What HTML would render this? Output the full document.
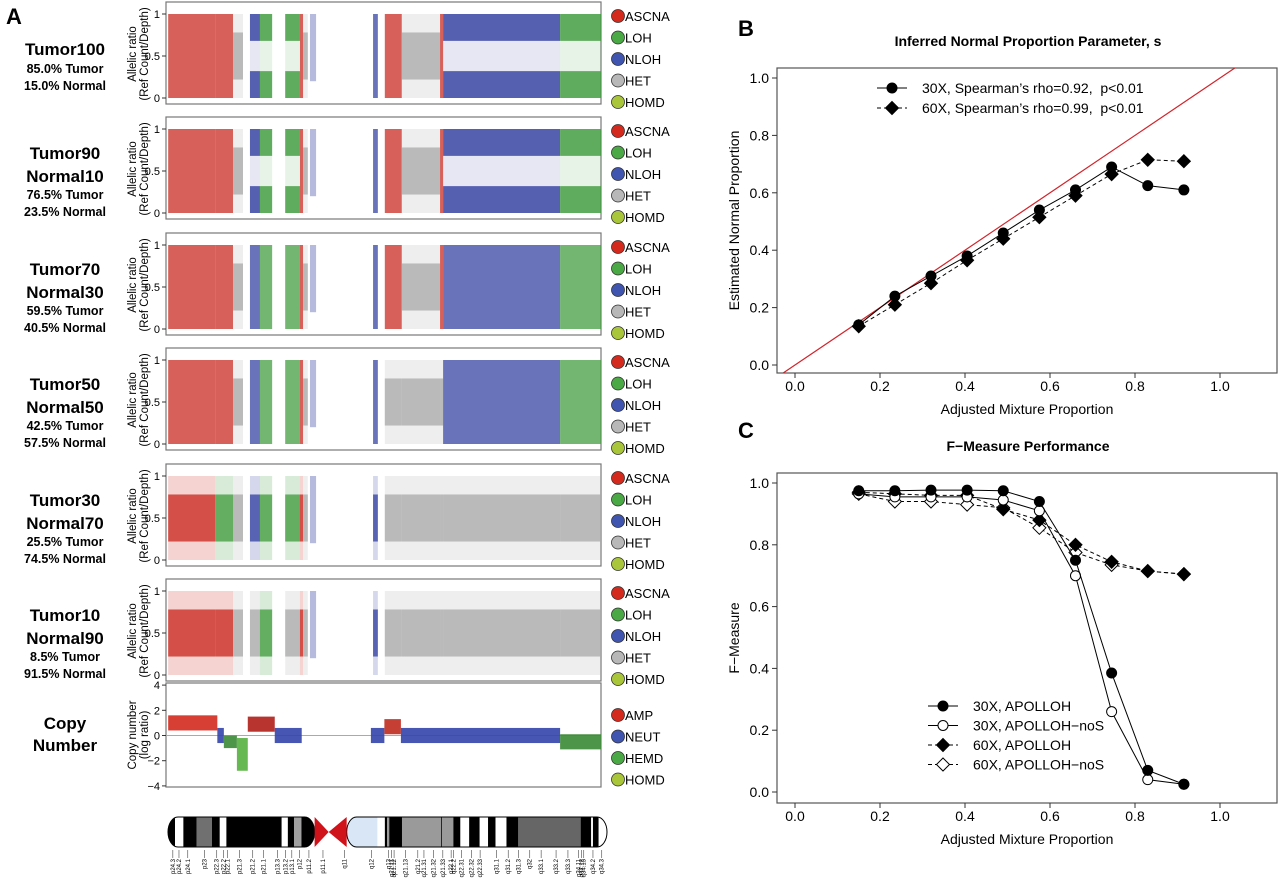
<!DOCTYPE html>
<html><head><meta charset="utf-8"><style>
html,body{margin:0;padding:0;background:#fff;}
svg{display:block;font-family:"Liberation Sans",Arial,sans-serif;}
</style></head><body>
<svg id="fig" width="1280" height="882" viewBox="0 0 1280 882" xmlns="http://www.w3.org/2000/svg">
<text x="6" y="24" font-size="22" font-weight="bold">A</text>
<text x="738" y="36" font-size="22" font-weight="bold">B</text>
<text x="738" y="438" font-size="22" font-weight="bold">C</text>
<g id="gA"></g>
<g id="gB"></g>
<g id="gC"></g>
</svg>
<script>
// ---------- Panel B/C data ----------
const mixX = [0.15,0.235,0.32,0.405,0.49,0.575,0.66,0.745,0.83,0.915];
const normal30X = [0.14,0.24,0.31,0.38,0.46,0.54,0.61,0.69,0.625,0.61];
const normal60X = [0.135,0.21,0.285,0.365,0.44,0.515,0.59,0.665,0.715,0.71];
const fm30X = [0.975,0.975,0.977,0.977,0.975,0.94,0.75,0.385,0.07,0.025];
const fm30XnoS = [0.965,0.955,0.955,0.955,0.945,0.91,0.70,0.26,0.04,0.025];
const fm60X = [0.97,0.965,0.96,0.96,0.915,0.88,0.80,0.745,0.715,0.705];
const fm60XnoS = [0.965,0.94,0.94,0.93,0.92,0.855,0.775,0.735,0.715,0.705];
const tickVals = [0,0.2,0.4,0.6,0.8,1.0];
const tickLabels = ["0.0","0.2","0.4","0.6","0.8","1.0"];

// ---------- Panel A data ----------
const sampleNames = [["Tumor100"],["Tumor90","Normal10"],["Tumor70","Normal30"],["Tumor50","Normal50"],["Tumor30","Normal70"],["Tumor10","Normal90"]];
const tumorPct = ["85.0% Tumor","76.5% Tumor","59.5% Tumor","42.5% Tumor","25.5% Tumor","8.5% Tumor"];
const normalPct = ["15.0% Normal","23.5% Normal","40.5% Normal","57.5% Normal","74.5% Normal","91.5% Normal"];
const stateLabels = ["ASCNA","LOH","NLOH","HET","HOMD"];
const cnLabels = ["AMP","NEUT","HEMD","HOMD"];
const regStart = [0.005,0.113,0.154,0.193,0.216,0.274,0.308,0.315,0.331,0.476,0.503,0.542,0.630,0.637,0.906];
const regEnd   = [0.113,0.154,0.177,0.216,0.244,0.308,0.315,0.326,0.345,0.487,0.542,0.630,0.637,0.906,1.0];
const regStates = [
 ["Rf","Rf","Hm","Bs","Gs","Gs","Rf","Hm","Bt","Bf","Rf","Hm","Rf","Bs","Gs"],
 ["Rf","Rf","Hm","Bs","Gs","Gs","Rf","Hm","Bt","Bf","Rf","Hm","Rf","Bs","Gs"],
 ["Rf","Rf","Hm","Bf","Gf","Gf","Rf","Hm","Bt","Bf","Rf","Hm","Rf","Bf","Gf"],
 ["Rf","Rf","Hm","Bf","Gf","Gf","Rf","Hm","Bt","Bf","Hm","Hm","Hm","Bf","Gf"],
 ["Rm","Gm","Hm","Bm","Gm","Gm","Rm","Hm","Bt","Bm","Hm","Hm","Hm","Hm","Hm"],
 ["Rm","Rm","Hm","Hm","Gm","Hm","Rm","Hm","Bt","Bm","Hm","Hm","Hm","Hm","Hm"]
];
const cnStart = [0.005,0.118,0.133,0.163,0.188,0.250,0.471,0.502,0.540,0.906];
const cnEnd   = [0.118,0.133,0.163,0.188,0.250,0.312,0.502,0.540,0.906,1.0];
const cnLevel = [1.0,0.0,-0.5,-1.5,0.9,0.0,0.0,0.7,0.0,-0.5];
const cnSpread = [0.6,0.6,0.5,1.3,0.6,0.6,0.6,0.6,0.6,0.6];
const cnColor = ["#d42a1e","#3344aa","#3a8a35","#55b040","#b01e18","#3344aa","#3344aa","#c02a1e","#3344aa","#3a8a35"];
const bandStart = [0,0.016,0.035,0.065,0.100,0.118,0.133,0.259,0.273,0.287,0.304,0.334,0.407,0.477,0.494,0.499,0.504,0.533,0.622,0.624,0.650,0.666,0.686,0.710,0.729,0.746,0.771,0.798,0.940,0.964,0.968,0.981];
const bandEnd   = [0.016,0.035,0.065,0.100,0.118,0.133,0.259,0.273,0.287,0.304,0.334,0.407,0.477,0.494,0.499,0.504,0.533,0.622,0.624,0.650,0.666,0.686,0.710,0.729,0.746,0.771,0.798,0.940,0.964,0.968,0.981,1.0];
const bandFill  = ["#000","#fff","#000","#707070","#000","#fff","#000","#fff","#000","#a0a0a0","#000","CEN","#d8e6f5","#fff","#000","#9a9a9a","#000","#9a9a9a","#000","#9a9a9a","#000","#fff","#000","#fff","#000","#fff","#000","#666","#000","#fff","#000","#fff"];
const bandNames = ["p24.3","p24.2","p24.1","p23","p22.3","p22.2","p22.1","p21.3","p21.2","p21.1","p13.3","p13.2","p13.1","p12","p11.2","p11.1","q11","q12","q13","q21.11","q21.12","q21.13","q21.2","q21.31","q21.32","q21.33","q22.1","q22.2","q22.31","q22.32","q22.33","q31.1","q31.2","q31.3","q32","q33.1","q33.2","q33.3","q34.11","q34.12","q34.13","q34.2","q34.3"];
const bandLabelPos = [0.011,0.025,0.045,0.083,0.111,0.126,0.136,0.163,0.193,0.218,0.249,0.268,0.282,0.300,0.321,0.353,0.402,0.464,0.502,0.509,0.515,0.541,0.569,0.583,0.605,0.626,0.645,0.650,0.669,0.691,0.711,0.748,0.775,0.798,0.824,0.850,0.884,0.911,0.935,0.942,0.947,0.968,0.988];

const NS="http://www.w3.org/2000/svg";
function el(tag, attrs, parent, txt){const e=document.createElementNS(NS,tag);for(const k in attrs)e.setAttribute(k,attrs[k]);if(txt!==undefined)e.textContent=txt;parent.appendChild(e);return e;}

// ---------- Panel A ----------
const gA=document.getElementById('gA');
const AX0=166, AX1=601, AW=AX1-AX0;
const panelTops=[2,117,233,348,464,579];
const colMap={R:"#c8231b",G:"#3d9a3a",B:"#2f3da0",H:"#a8a8a8"};
const legCol=["#d42a1e","#4aa845","#3f55b0","#b8b8b8","#a9c53a"];
function ax(f){return AX0+f*AW;}
panelTops.forEach((top,pi)=>{
  const g=el('g',{},gA);
  
  
  const yv=v=>top+96-v*84;
  const box=el('rect',{x:AX0,y:top,width:AW,height:102,fill:'#fff',stroke:'#777','stroke-width':1.2},g);
  
  regStates[pi].forEach((st,ri)=>{
    const c=colMap[st[0]],p=st[1];
    const x=ax(regStart[ri]),w=ax(regEnd[ri])-x;
    let bands;
    if(p==='f')bands=[[0,1,0.72]];
    else if(p==='s')bands=[[0,0.32,0.82],[0.68,1,0.82],[0.32,0.68,0.12]];
    else if(p==='m')bands=[[0.22,0.78,0.75],[0,1,0.2]];
    else bands=[[0.2,1,0.35]];
    bands.forEach(b=>{
      const r=el('rect',{x:x,y:yv(b[1]),width:w,height:yv(b[0])-yv(b[1]),fill:c,opacity:b[2]},g);
      
      
    });
  });
  [["1",1],["0.5",0.5],["0",0]].forEach(t=>{
    el('line',{x1:AX0-4,x2:AX0,y1:yv(t[1]),y2:yv(t[1]),stroke:'#333'},g);
    const tl=el('text',{x:AX0-6,y:yv(t[1])+4,'font-size':11,'text-anchor':'end'},g,t[0]);
    
  });
  const yl=el('text',{transform:`translate(136,${top+52}) rotate(-90)`,'font-size':11.5,'text-anchor':'middle'},g,'Allelic ratio');
  
  const yl2=el('text',{transform:`translate(148,${top+52}) rotate(-90)`,'font-size':11.5,'text-anchor':'middle'},g,'(Ref Count/Depth)');
  
  stateLabels.forEach((s,i)=>{
    const cy=top+14+i*21.5;
    const c=el('circle',{cx:618,cy:cy,r:6.5,fill:legCol[i],stroke:'#333','stroke-width':0.8},g);
    
    const t=el('text',{x:625,y:cy+5,'font-size':13},g,s);
    
  });
  const names=sampleNames[pi];
  let ty = names.length===1? top+53 : top+42;
  names.forEach((n,k)=>{
    const t=el('text',{x:65,y:ty+k*23,'font-size':17,'font-weight':'bold','text-anchor':'middle'},gA,n);
    
  });
  const base = names.length===1? top+71 : top+82;
  const t1=el('text',{x:65,y:base,'font-size':12.5,'font-weight':'bold','text-anchor':'middle'},gA,tumorPct[pi]);
  
  const t2=el('text',{x:65,y:base+17,'font-size':12.5,'font-weight':'bold','text-anchor':'middle'},gA,normalPct[pi]);
  
});
(function(){
  const top=683,g=el('g',{},gA);
  
  const yv=v=>735.5-v*12.6;
  el('rect',{x:AX0,y:top,width:AW,height:104,fill:'#fff',stroke:'#777','stroke-width':1.2},g);
  el('line',{x1:AX0,x2:AX1,y1:yv(0),y2:yv(0),stroke:'#aaa'},g);
  cnLevel.forEach((lv,i)=>{
    const x=ax(cnStart[i]),w=ax(cnEnd[i])-x;
    const r=el('rect',{x:x,y:yv(lv+cnSpread[i]),width:w,height:yv(lv-cnSpread[i])-yv(lv+cnSpread[i]),fill:cnColor[i],opacity:0.9},g);
    
  });
  [["4",4],["2",2],["0",0],["-2",-2],["-4",-4]].forEach(t=>{
    el('line',{x1:AX0-4,x2:AX0,y1:yv(t[1]),y2:yv(t[1]),stroke:'#333'},g);
    const tl=el('text',{x:AX0-6,y:yv(t[1])+4,'font-size':11,'text-anchor':'end'},g,t[0].replace('-','\u2212'));
    
  });
  const a=el('text',{transform:'translate(136,735) rotate(-90)','font-size':11.5,'text-anchor':'middle'},g,'Copy number');
  
  const b=el('text',{transform:'translate(148,735) rotate(-90)','font-size':11.5,'text-anchor':'middle'},g,'(log ratio)');
  
  const cc=["#d42a1e","#3f55b0","#4aa845","#a9c53a"];
  cnLabels.forEach((s,i)=>{
    const cy=715+i*21.5;
    const c=el('circle',{cx:618,cy:cy,r:6.5,fill:cc[i],stroke:'#333','stroke-width':0.8},g);
    
    const t=el('text',{x:625,y:cy+5,'font-size':13},g,s);
    
  });
  const l1=el('text',{x:65,y:729,'font-size':17,'font-weight':'bold','text-anchor':'middle'},gA,'Copy');
  
  const l2=el('text',{x:65,y:751,'font-size':17,'font-weight':'bold','text-anchor':'middle'},gA,'Number');
  
})();
(function(){
  const I0=168,I1=607,IW=I1-I0,top=817,h=30;
  const g=el('g',{},gA);
  
  const ix=f=>I0+f*IW;
  const defs=el('defs',{},g);
  const cp=el('clipPath',{id:'chrClip'},defs);
  el('rect',{x:I0,y:top,width:ix(0.334)-I0,height:h,rx:10,ry:15},cp);
  el('rect',{x:ix(0.407),y:top,width:I1-ix(0.407),height:h,rx:10,ry:15},cp);
  const bg=el('g',{'clip-path':'url(#chrClip)'},g);
  bandFill.forEach((f,i)=>{
    if(f==='CEN')return;
    const r=el('rect',{x:ix(bandStart[i]),y:top,width:ix(bandEnd[i])-ix(bandStart[i]),height:h,fill:f},bg);
    
  });
  el('rect',{x:I0,y:top,width:ix(0.334)-I0,height:h,rx:10,ry:15,fill:'none',stroke:'#000','stroke-width':1},g);
  el('rect',{x:ix(0.407),y:top,width:I1-ix(0.407),height:h,rx:10,ry:15,fill:'none',stroke:'#000','stroke-width':1},g);
  const cx=ix(0.366);
  const cen=el('path',{d:`M${ix(0.334)},${top} L${cx},${top+h/2} L${ix(0.334)},${top+h} Z M${ix(0.407)},${top} L${cx},${top+h/2} L${ix(0.407)},${top+h} Z`,fill:'#d0121b'},g);
  
  bandNames.forEach((n,i)=>{
    const x=ix(bandLabelPos[i]);
    el('line',{x1:x,x2:x,y1:850,y2:858,stroke:'#444','stroke-width':0.6},g);
    const t=el('text',{transform:`translate(${x+2},${859}) rotate(-90)`,'font-size':6,'text-anchor':'end'},g,n);
    
  });
})();

// ---------- Line charts ----------
function lineChart(gid, top, bottom, y1px, y0px, title, ylabel){
  const g=document.getElementById(gid);
  const L=777,R=1277;
  const xs=v=>795+v*425;
  const ys=v=>y0px-v*(y0px-y1px);
  el('rect',{x:L,y:top,width:R-L,height:bottom-top,fill:'#fff',stroke:'#555','stroke-width':1.2},g);
  const tt=el('text',{x:1028,y:top-22,'font-size':14,'font-weight':'bold','text-anchor':'middle'},g,title);
  
  tickVals.forEach((v,i)=>{
    el('line',{x1:xs(v),x2:xs(v),y1:bottom,y2:bottom+5,stroke:'#333'},g);
    const a=el('text',{x:xs(v),y:bottom+18,'font-size':14,'text-anchor':'middle'},g,tickLabels[i]);
    
    el('line',{x1:L-5,x2:L,y1:ys(v),y2:ys(v),stroke:'#333'},g);
    const b=el('text',{x:L-8,y:ys(v)+5,'font-size':14,'text-anchor':'end'},g,tickLabels[i]);
    
  });
  const xl=el('text',{x:1027,y:bottom+41,'font-size':14,'text-anchor':'middle'},g,'Adjusted Mixture Proportion');
  
  const yl=el('text',{transform:`translate(739,${(top+bottom)/2}) rotate(-90)`,'font-size':14,'text-anchor':'middle'},g,ylabel);
  
  function marker(parent,x,y,shape,filled){
    let m;
    if(shape==='circle') m=el('circle',{cx:x,cy:y,r:5,fill:filled?'#000':'#fff',stroke:'#000','stroke-width':1},parent);
    else m=el('path',{d:`M${x},${y-6.5} L${x+6.5},${y} L${x},${y+6.5} L${x-6.5},${y} Z`,fill:filled?'#000':'#fff',stroke:'#000','stroke-width':1},parent);
    return m;
  }
  return {g,xs,ys,marker,L,R,top,bottom,
    draw(s){
      const sg=el('g',{},g);
      
      const pts=mixX.map((x,i)=>xs(x)+','+ys(s.data[i])).join(' ');
      el('polyline',{points:pts,fill:'none',stroke:'#000','stroke-width':1,'stroke-dasharray':s.dash?'4,3':'none'},sg);
      mixX.forEach((x,i)=>{
        const m=marker(sg,xs(x),ys(s.data[i]),s.shape,s.filled);
        
      });
    },
    legend(items,lx,ly,dy){
      const lg=el('g',{},g);
      
      items.forEach((s,i)=>{
        const y=ly+i*dy;
        el('line',{x1:lx,x2:lx+30,y1:y,y2:y,stroke:'#000','stroke-dasharray':s.dash?'4,3':'none'},lg);
        const m=marker(lg,lx+15,y,s.shape,s.filled);
        
        const t=el('text',{x:lx+45,y:y+5,'font-size':14},lg,s.label);
        
      });
    }};
}
const cb=lineChart('gB',68,373,78,365,'Inferred Normal Proportion Parameter, s','Estimated Normal Proportion');
(function(){
  const x0=(cb.L-795)/425, x1v=(cb.R-795)/425;
  const yb0=(373-365)/-(287), ybT=(365-68)/287;
  const sx=Math.max(x0,yb0), ex=Math.min(x1v,ybT);
  const d=el('line',{x1:cb.xs(sx),y1:cb.ys(sx),x2:cb.xs(ex),y2:cb.ys(ex),stroke:'#d2232a','stroke-width':1.2},cb.g);
  
})();
const sB=[{name:'series-30x',data:normal30X,shape:'circle',filled:true,dash:false,label:'30X, Spearman\u2019s rho=0.92,\u00a0 p<0.01'},
          {name:'series-60x',data:normal60X,shape:'diamond',filled:true,dash:true,label:'60X, Spearman\u2019s rho=0.99,\u00a0 p<0.01'}];
sB.forEach(s=>cb.draw(s));
cb.legend(sB,877,88,20);
const cc=lineChart('gC',473,803,483,792,'F\u2212Measure Performance','F\u2212Measure');
const sC=[{name:'series-30x-apolloh',data:fm30X,shape:'circle',filled:true,dash:false,label:'30X, APOLLOH'},
          {name:'series-30x-apolloh-nos',data:fm30XnoS,shape:'circle',filled:false,dash:false,label:'30X, APOLLOH\u2212noS'},
          {name:'series-60x-apolloh',data:fm60X,shape:'diamond',filled:true,dash:true,label:'60X, APOLLOH'},
          {name:'series-60x-apolloh-nos',data:fm60XnoS,shape:'diamond',filled:false,dash:true,label:'60X, APOLLOH\u2212noS'}];
[sC[3],sC[2],sC[1],sC[0]].forEach(s=>cc.draw(s));
cc.legend(sC,928,706,19.5);
</script>
</body></html>
